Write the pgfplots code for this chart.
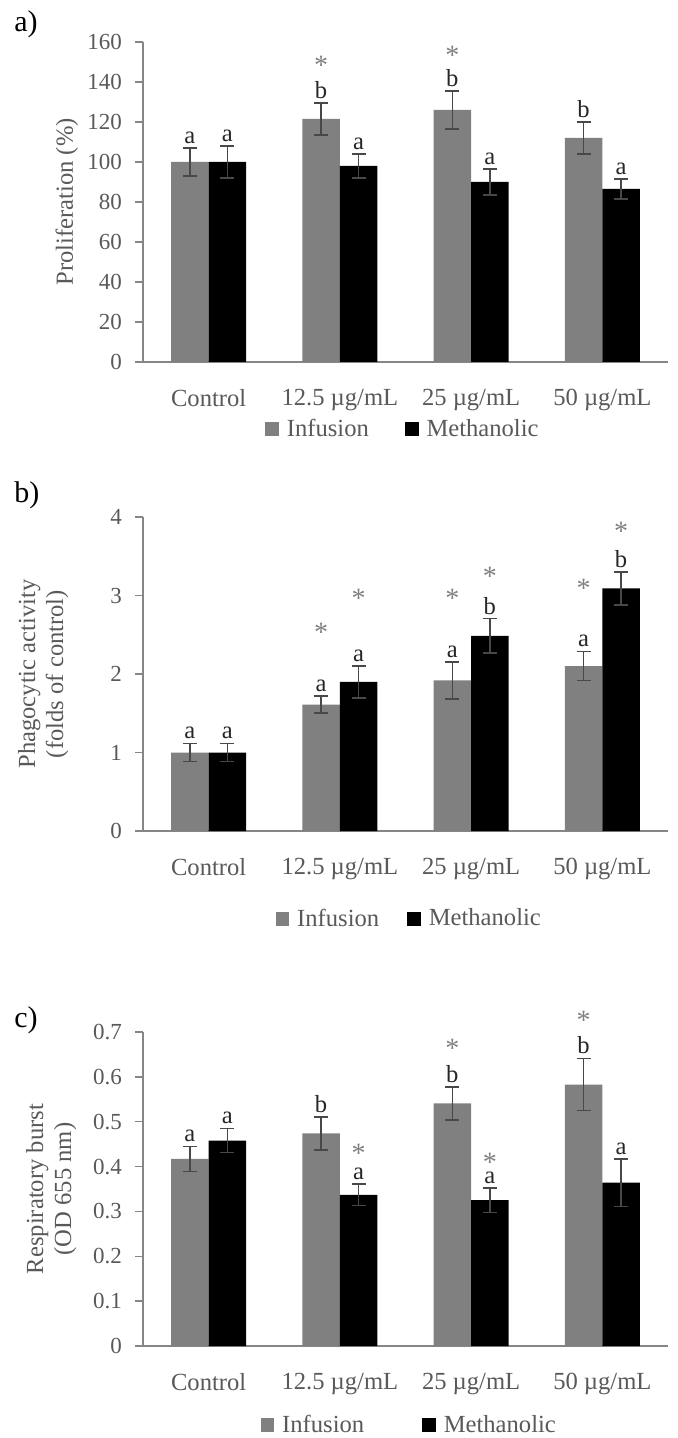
\documentclass[border=0pt]{standalone}
\usepackage{fontspec}
\setmainfont{Liberation Serif}
\usepackage{pgfplots}
\pgfplotsset{compat=1.18}
\usepackage{pgfplotstable}

\definecolor{infc}{RGB}{128,128,128}
\definecolor{metc}{RGB}{0,0,0}
\definecolor{axc}{RGB}{134,134,134}
\definecolor{txtc}{RGB}{89,89,89}
\definecolor{errc}{RGB}{72,72,72}
\definecolor{letc}{RGB}{38,38,38}
\definecolor{starc}{RGB}{128,128,128}

% x: group, inf/met: mean, infe/mete: error, infl/metl: letters, infs/mets: asterisk height
\pgfplotstableread{
x inf   infe met  mete infl metl infs  mets
0 100   7    100  8    a    a    nan   nan
1 121.5 8    98   6    b    a    150.7 nan
2 126   9.5  90   6.5  b    a    155.8 nan
3 112   8    86.5 5    b    a    nan   nan
}\tabA
\pgfplotstableread{
x inf  infe  met   mete  infl metl infs mets
0 1.00 0.115 1.00  0.115 a    a    nan  nan
1 1.61 0.11  1.90  0.205 a    a    2.59 3.03
2 1.92 0.235 2.485 0.22  a    b    3.03 3.31
3 2.10 0.185 3.09  0.21  a    b    3.16 3.88
}\tabB
\pgfplotstableread{
x inf   infe  met   mete  infl metl infs  mets
0 0.417 0.028 0.458 0.027 a    a    nan   nan
1 0.474 0.037 0.337 0.024 b    a    nan   0.440
2 0.541 0.037 0.325 0.027 b    a    0.674 0.421
3 0.583 0.058 0.364 0.053 b    a    0.737 nan
}\tabC

\newcommand{\fs}{\fontsize{12.3}{14}\selectfont}
% half a bar width, in category units (bars are 0.2857 of a category wide)
\newcommand{\hb}{0.142857}

\pgfplotsset{
  panel/.style={
    scale only axis, width=262.5pt,
    xmin=-0.5, xmax=3.5, ymin=0,
    axis x line*=bottom, axis y line*=left,
    axis line style={axc, line width=0.7pt},
    xtick={0,1,2,3},
    xticklabels={Control, 12.5 µg/mL, 25 µg/mL, 50 µg/mL},
    x tick style={draw=none},
    y tick style={axc, line width=0.7pt},
    tick align=outside, major tick length=4pt,
    xticklabel style={font=\fs, text=txtc, yshift=-6pt},
    yticklabel style={font=\fontsize{11.5}{13}\selectfont, text=txtc, xshift=-3pt},
    /pgf/number format/assume math mode=true,
    every axis y label/.style={rotate=90, anchor=center, font=\fs, text=txtc, align=center},
    clip=false,
    legend columns=2,
    legend style={draw=none, fill=none, font=\fs, text=txtc, anchor=center,
      /tikz/every odd column/.append style={column sep=2pt}},
  },
  errstyle/.style={error bars/.cd, y dir=both, y explicit,
    error bar style={errc, line width=0.8pt},
    error mark options={rotate=90, mark size=3.5pt, errc, line width=0.8pt}},
  infbar/.style={ybar, bar width=0.2857, bar shift=0pt, fill=infc, draw=none,
    legend image code/.code={\fill[infc] (0pt,-3.4pt) rectangle (6.8pt,3.4pt);},
    errstyle},
  metbar/.style={ybar, bar width=0.2857, bar shift=0pt, fill=metc, draw=none,
    legend image code/.code={\fill[metc] (0pt,-3.4pt) rectangle (6.8pt,3.4pt);},
    errstyle},
  lettr/.style={only marks, mark=none, forget plot,
    point meta=explicit symbolic, nodes near coords,
    every node near coord/.style={font=\fs, text=letc, anchor=south, inner sep=1.5pt, yshift=0.5pt}},
  star/.style={only marks, mark=none, forget plot,
    nodes near coords={*},
    every node near coord/.style={font=\fontsize{14}{16}\selectfont, text=starc, anchor=center, inner sep=0pt, yshift=-2.5pt}},
}

\begin{document}
\begin{tikzpicture}
\useasboundingbox (0,0) rectangle (339pt,-719pt);

\node[anchor=base west, font=\fontsize{15}{18}\selectfont, inner sep=0pt] at (7pt,-16pt) {a)};
\node[anchor=base west, font=\fontsize{15}{18}\selectfont, inner sep=0pt] at (7pt,-251pt) {b)};
\node[anchor=base west, font=\fontsize{15}{18}\selectfont, inner sep=0pt] at (7pt,-513.5pt) {c)};

% a) proliferation
\begin{axis}[panel, at={(71.5pt,-181pt)}, anchor=south west, height=160pt,
  ymax=160, ytick={0,20,...,160},
  ylabel={Proliferation (\%)},
  ylabel style={at={(axis description cs:-0.145,0.5)}},
  legend style={at={(axis description cs:0.497,-0.21)},
    /tikz/every even column/.append style={column sep=16pt}}]
\addplot[infbar] table[x expr=\thisrow{x}-\hb, y=inf, y error=infe] {\tabA};
\addlegendentry{Infusion}
\addplot[metbar] table[x expr=\thisrow{x}+\hb, y=met, y error=mete] {\tabA};
\addlegendentry{Methanolic}
\addplot[lettr] table[x expr=\thisrow{x}-\hb, y expr=\thisrow{inf}+\thisrow{infe}, meta=infl] {\tabA};
\addplot[lettr] table[x expr=\thisrow{x}+\hb, y expr=\thisrow{met}+\thisrow{mete}, meta=metl] {\tabA};
\addplot[star] table[x expr=\thisrow{x}-\hb, y=infs] {\tabA};
\end{axis}

% b) phagocytic activity
\begin{axis}[panel, at={(71.5pt,-415.5pt)}, anchor=south west, height=157pt,
  ymax=4, ytick={0,1,...,4},
  ylabel={Phagocytic activity\\(folds of control)},
  ylabel style={at={(axis description cs:-0.19,0.5)}},
  legend style={at={(axis description cs:0.509,-0.28)},
    /tikz/every even column/.append style={column sep=12pt}}]
\addplot[infbar] table[x expr=\thisrow{x}-\hb, y=inf, y error=infe] {\tabB};
\addlegendentry{Infusion}
\addplot[metbar] table[x expr=\thisrow{x}+\hb, y=met, y error=mete] {\tabB};
\addlegendentry{Methanolic}
\addplot[lettr] table[x expr=\thisrow{x}-\hb, y expr=\thisrow{inf}+\thisrow{infe}, meta=infl] {\tabB};
\addplot[lettr] table[x expr=\thisrow{x}+\hb, y expr=\thisrow{met}+\thisrow{mete}, meta=metl] {\tabB};
\addplot[star] table[x expr=\thisrow{x}-\hb, y=infs] {\tabB};
\addplot[star] table[x expr=\thisrow{x}+\hb, y=mets] {\tabB};
\end{axis}

% c) respiratory burst
\begin{axis}[panel, at={(71.5pt,-673pt)}, anchor=south west, height=157pt,
  ymax=0.7, ytick={0,0.1,0.2,0.3,0.4,0.5,0.6,0.7},
  yticklabel style={/pgf/number format/.cd, fixed, precision=1},
  ylabel={Respiratory burst\\(OD 655 nm)},
  ylabel style={at={(axis description cs:-0.175,0.5)}},
  legend style={at={(axis description cs:0.509,-0.252)},
    /tikz/every even column/.append style={column sep=27pt}}]
\addplot[infbar] table[x expr=\thisrow{x}-\hb, y=inf, y error=infe] {\tabC};
\addlegendentry{Infusion}
\addplot[metbar] table[x expr=\thisrow{x}+\hb, y=met, y error=mete] {\tabC};
\addlegendentry{Methanolic}
\addplot[lettr] table[x expr=\thisrow{x}-\hb, y expr=\thisrow{inf}+\thisrow{infe}, meta=infl] {\tabC};
\addplot[lettr] table[x expr=\thisrow{x}+\hb, y expr=\thisrow{met}+\thisrow{mete}, meta=metl] {\tabC};
\addplot[star] table[x expr=\thisrow{x}-\hb, y=infs] {\tabC};
\addplot[star] table[x expr=\thisrow{x}+\hb, y=mets] {\tabC};
\end{axis}
\end{tikzpicture}
\end{document}
